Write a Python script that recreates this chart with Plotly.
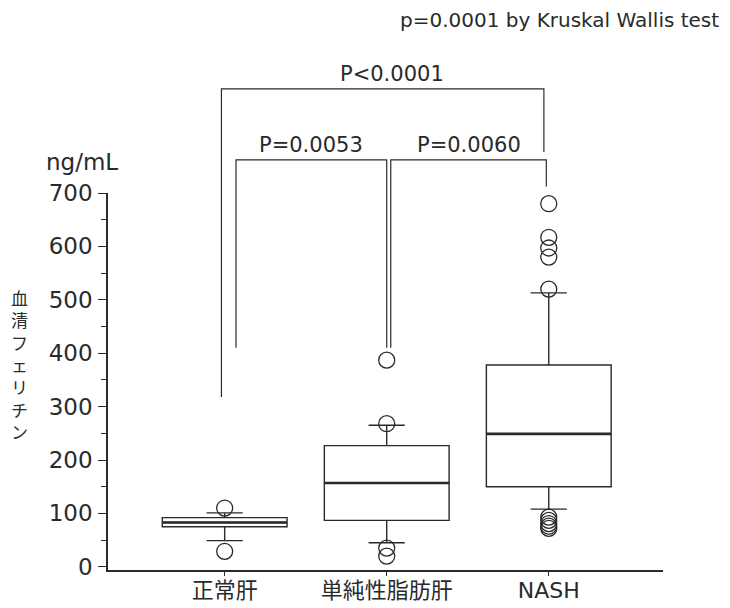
import plotly.graph_objects as go

# ---------------- data ----------------
categories = ["正常肝", "単純性脂肪肝", "NASH"]
q1 = [75, 87, 150]
median = [83, 157, 249]
q3 = [92, 227, 378]
lower_fence = [49, 45, 108]
upper_fence = [101, 265, 513]
outliers = {
    "正常肝": [110, 29],
    "単純性脂肪肝": [387, 268, 35, 20],
    "NASH": [680, 617, 597, 580, 520, 93, 87, 81, 76, 72],
}
y_ticks = [0, 100, 200, 300, 400, 500, 600, 700]

kw_text = "p=0.0001 by Kruskal Wallis test"
y_title = "血清フェリチン"
unit_text = "ng/mL"
comparison_labels = ["P<0.0001", "P=0.0053", "P=0.0060"]

# ---------------- layout helpers ----------------
X_RANGE = [-0.72, 2.705]
Y_RANGE = [-6, 700]
INK = "#2a2a2a"
FONT = "DejaVu Sans, Noto Sans CJK JP, sans-serif"
BOX_W = 0.77


def xp(c):
    return (c - X_RANGE[0]) / (X_RANGE[1] - X_RANGE[0])


def yp(v):
    return (v - Y_RANGE[0]) / (Y_RANGE[1] - Y_RANGE[0])


fig = go.Figure()

fig.add_trace(go.Box(
    x=categories, q1=q1, median=median, q3=q3,
    lowerfence=lower_fence, upperfence=upper_fence,
    boxpoints=False, width=BOX_W, whiskerwidth=0.29,
    fillcolor="rgba(255,255,255,0)",
    line=dict(color=INK, width=1.4),
    showlegend=False, hoverinfo="skip",
))

ox, oy = [], []
for cat in categories:
    for v in outliers[cat]:
        ox.append(cat)
        oy.append(v)
fig.add_trace(go.Scatter(
    x=ox, y=oy, mode="markers", cliponaxis=False,
    marker=dict(symbol="circle-open", size=16, color=INK, line=dict(width=1.3)),
    showlegend=False, hoverinfo="skip",
))

shapes = []
# thicker median lines
for i, m in enumerate(median):
    shapes.append(dict(type="line", xref="x", yref="y",
                       x0=i - BOX_W / 2, x1=i + BOX_W / 2, y0=m, y1=m,
                       line=dict(color=INK, width=2.6)))

# significance brackets (positions in data units, drawn in paper coords)
brackets = [
    # (x_left, x_right, y_top, y_left_end, y_right_end, label_x, label_y, label)
    (0 - 0.02, 1.97, 895, 318, 777, 1.03, 922, comparison_labels[0]),
    (0 + 0.07, 1.0, 762, 410, 410, 0.53, 790, comparison_labels[1]),
    (1.025, 1.985, 762, 410, 712, 1.51, 790, comparison_labels[2]),
]
annotations = []
for xl, xr, yt, yl, yr, lx, ly, lab in brackets:
    shapes.append(dict(type="path", xref="paper", yref="paper",
                       path=f"M {xp(xl)},{yp(yl)} L {xp(xl)},{yp(yt)} L {xp(xr)},{yp(yt)} L {xp(xr)},{yp(yr)}",
                       line=dict(color=INK, width=1.2)))
    annotations.append(dict(text=lab, x=xp(lx), y=yp(ly), xref="paper", yref="paper",
                            xanchor="center", yanchor="middle",
                            showarrow=False, font=dict(size=21, color=INK, family=FONT)))

annotations.append(dict(text=kw_text, x=1.1045, y=1.459, xref="paper", yref="paper",
                        xanchor="right", yanchor="middle", showarrow=False,
                        font=dict(size=20, color=INK, family=FONT)))
annotations.append(dict(text=unit_text, x=-0.047, y=1.082, xref="paper", yref="paper",
                        xanchor="center", yanchor="middle",
                        showarrow=False, font=dict(size=23, color=INK, family=FONT)))
# vertical (stacked) y-axis title, one character per line
n = len(y_title)
step = 22.3 / 377.0
yc = 0.545
for k, ch in enumerate(y_title):
    annotations.append(dict(text=ch, x=-0.1586, y=yc + (n - 1) / 2 * step - k * step,
                            xref="paper", yref="paper", xanchor="center", yanchor="middle",
                            showarrow=False,
                            font=dict(size=17, color=INK, family="Noto Sans CJK JP")))

fig.update_layout(
    width=714, height=600,
    margin=dict(l=100, r=59, t=185, b=38, autoexpand=False),
    paper_bgcolor="white", plot_bgcolor="white",
    font=dict(family=FONT, color=INK),
    shapes=shapes, annotations=annotations,
    xaxis=dict(range=X_RANGE, type="category", categoryarray=categories,
               automargin=False,
               showline=True, linecolor=INK, linewidth=1.5,
               ticks="outside", ticklen=4, tickcolor=INK, tickwidth=1,
               showgrid=False, zeroline=False, ticklabelstandoff=-4,
               tickfont=dict(size=22, family=FONT, color=INK)),
    yaxis=dict(range=Y_RANGE, tickvals=y_ticks, automargin=False,
               showline=True, linecolor=INK, linewidth=1.5,
               ticks="outside", ticklen=8, tickcolor=INK, tickwidth=1.2,
               minor=dict(ticks="outside", ticklen=5, dtick=50, tickcolor=INK, showgrid=False),
               showgrid=False, zeroline=False, ticklabelstandoff=1,
               tickfont=dict(size=23, family=FONT, color=INK)),
)

fig.write_html("out.html")
